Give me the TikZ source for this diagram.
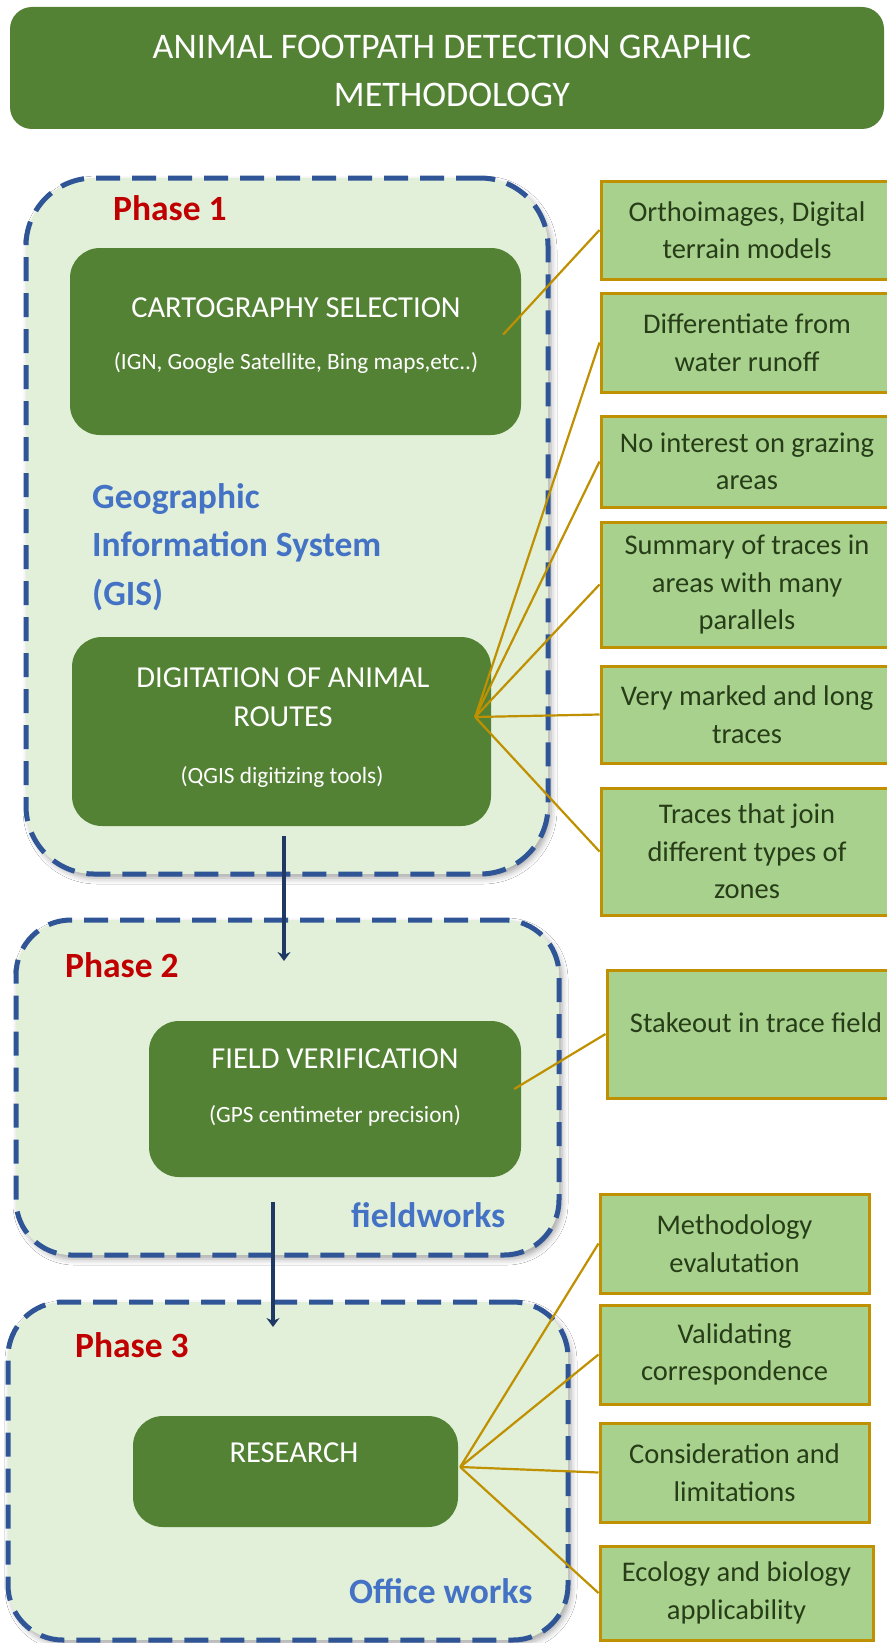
\documentclass[tikz,border=0pt]{standalone}
\usepackage{fontspec}
\setmainfont{Carlito}
\usetikzlibrary{arrows.meta,calc,shadows.blur}

\definecolor{darkgreen}{HTML}{548235}
\definecolor{palegreen}{HTML}{E2F0D9}
\definecolor{leafgreen}{HTML}{A9D18E}
\definecolor{gold}{HTML}{BF9000}
\definecolor{dashblue}{HTML}{2F5597}
\definecolor{phasered}{HTML}{C00000}
\definecolor{labelblue}{HTML}{4472C4}
\definecolor{navy}{HTML}{1F3864}
\definecolor{notetext}{HTML}{263D18}

\begin{document}
\begin{tikzpicture}[x=1pt,y=-1pt,
  phase/.style={draw=dashblue, line width=5pt, dash pattern=on 24pt off 12pt,
    fill=palegreen, inner sep=0pt,
    blur shadow={shadow xshift=3pt, shadow yshift=-4pt, shadow blur radius=6pt, shadow opacity=35}},
  stage/.style={fill=darkgreen, rounded corners=30pt, inner sep=0pt},
  stagetitle/.style={text=white, font=\fontsize{30.5}{38}\selectfont, anchor=base, inner sep=0pt},
  stagenote/.style={text=white, font=\fontsize{23.3}{28}\selectfont, anchor=base, inner sep=0pt},
  phaselabel/.style={text=phasered, font=\bfseries\fontsize{35.5}{40}\selectfont, anchor=base west, inner sep=0pt},
  worklabel/.style={text=labelblue, font=\bfseries\fontsize{35.5}{48.5}\selectfont, inner sep=0pt},
  note/.style={draw=gold, line width=3pt, fill=leafgreen, text=notetext, align=center,
    font=\fontsize{28.5}{37.5}\selectfont, inner sep=0pt},
  link/.style={draw=gold, line width=2.2pt},
  flow/.style={draw=navy, line width=3.5pt, -{Stealth[length=9pt,width=13pt]}},
]
\useasboundingbox (0,0) rectangle (886,1643);
\fill[white] (0,0) rectangle (886,1643);

% heading
\node[fill=darkgreen, rounded corners=22pt, minimum width=874pt, minimum height=122pt, inner sep=0pt] (title) at (447,68) {};
\node[text=white, align=center, font=\fontsize{36}{48}\selectfont, inner sep=0pt] (titletext) at (452,71.4)
  {ANIMAL FOOTPATH DETECTION GRAPHIC\\METHODOLOGY};

% phase containers
\node[phase, rounded corners=68pt, minimum width=522pt, minimum height=696pt] (phase1) at (287,526) {};
\node[phase, rounded corners=55pt, minimum width=543pt, minimum height=335pt] (phase2) at (287.5,1087.5) {};
\node[phase, rounded corners=55pt, minimum width=560pt, minimum height=338pt] (phase3) at (288,1471) {};

\node[phaselabel] (p1) at (113,220) {Phase 1};
\node[phaselabel] (p2) at (65,977) {Phase 2};
\node[phaselabel] (p3) at (75,1357) {Phase 3};

\node[worklabel, align=left, anchor=west] (gis) at (92,547) {Geographic\\Information System\\(GIS)};
\node[worklabel, anchor=base west] (fieldworks) at (351,1227) {fieldworks};
\node[worklabel, anchor=base west] (office) at (349,1603) {Office works};

% process steps
\node[stage, minimum width=451pt, minimum height=187pt] (carto) at (295.5,341.5) {};
\node[stagetitle] (cartoA) at (296,317) {CARTOGRAPHY SELECTION};
\node[stagenote] (cartoB) at (296,369) {(IGN, Google Satellite, Bing maps,etc..)};

\node[stage, minimum width=419pt, minimum height=189pt] (digit) at (281.5,731.5) {};
\node[stagetitle] (digitA) at (283,687) {DIGITATION OF ANIMAL};
\node[stagetitle] (digitB) at (283,726) {ROUTES};
\node[stagenote] (digitC) at (282,783) {(QGIS digitizing tools)};

\node[stage, minimum width=372pt, minimum height=156pt] (field) at (335,1099) {};
\node[stagetitle] (fieldA) at (335,1068) {FIELD VERIFICATION};
\node[stagenote] (fieldB) at (335,1122) {(GPS centimeter precision)};

\node[stage, minimum width=325pt, minimum height=111pt] (research) at (295.5,1471.5) {};
\node[stagetitle] (researchA) at (294,1462) {RESEARCH};

% side notes
\node[note, minimum width=292pt, minimum height=98pt] (ortho) at (747,230) {Orthoimages, Digital\\terrain models};
\node[note, minimum width=292pt, minimum height=99pt] (runoff) at (747,342.5) {Differentiate from\\water runoff};
\node[note, minimum width=292pt, minimum height=91pt] (grazing) at (747,461.5) {No interest on grazing\\areas};
\node[note, minimum width=292pt, minimum height=125pt] (summary) at (747,584.5) {Summary of traces in\\areas with many\\parallels};
\node[note, minimum width=292pt, minimum height=97pt] (marked) at (747,714.5) {Very marked and long\\traces};
\node[note, minimum width=292pt, minimum height=127pt] (zones) at (747,851.5) {Traces that join\\different types of\\zones};
\node[note, minimum width=298pt, minimum height=128pt] (stake) at (756,1034) {};
\node[text=notetext, font=\fontsize{28.5}{37.5}\selectfont, anchor=base, inner sep=0pt] (stakeA) at (756,1032) {Stakeout in trace field};
\node[note, minimum width=269pt, minimum height=99pt] (evaluation) at (734.5,1243.5) {Methodology\\evalutation};
\node[note, minimum width=269pt, minimum height=99pt] (validating) at (734.5,1354.5) {Validating\\correspondence};
\node[note, minimum width=269pt, minimum height=99pt] (limits) at (734.5,1472.5) {Consideration and\\limitations};
\node[note, minimum width=273pt, minimum height=94pt] (ecology) at (736.5,1593) {Ecology and biology\\applicability};

% connector hubs
\coordinate (cartoTap) at ($(carto.east)+(-18,-7)$);
\coordinate (digitTap) at ($(digit.east)+(-16,-14.5)$);
\coordinate (fieldTap) at ($(field.east)+(-7,-10)$);
\coordinate (researchTap) at ($(research.east)+(2,-4.5)$);

\draw[link] (cartoTap) -- (ortho.west);
\foreach \n in {runoff,grazing,summary,marked,zones}
  \draw[link] (digitTap) -- (\n.west);
\draw[link] (fieldTap) -- (stake.west);
\foreach \n in {evaluation,validating,limits,ecology}
  \draw[link] (researchTap) -- (\n.west);

% flow between phases
\coordinate (flowAtop) at (284,836);
\coordinate (flowAtip) at (284,961);
\coordinate (flowBtop) at (273,1202);
\coordinate (flowBtip) at (273,1327);
\draw[flow] (flowAtop) -- (flowAtip);
\draw[flow] (flowBtop) -- (flowBtip);
\end{tikzpicture}
\end{document}
